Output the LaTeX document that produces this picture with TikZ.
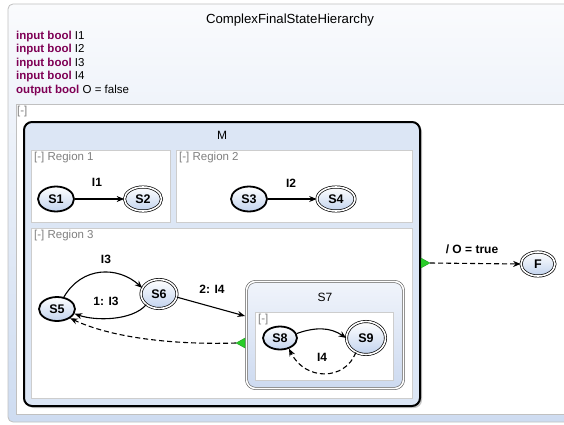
\documentclass[tikz,border=0pt]{standalone}
\usepackage{fontspec}
\setmainfont{Liberation Sans}
\usetikzlibrary{shapes.geometric,arrows.meta,shadows}
\definecolor{kw}{RGB}{127,0,85}
\definecolor{stlo}{RGB}{194,211,238}
\definecolor{mfill}{RGB}{220,230,245}
\definecolor{regbd}{RGB}{205,205,205}
\definecolor{frbd}{RGB}{192,192,192}
\definecolor{hdtop}{RGB}{250,251,253}
\definecolor{hdbot}{RGB}{206,220,241}
\definecolor{grn}{RGB}{40,205,40}
\definecolor{sevtop}{RGB}{240,244,251}
\definecolor{sevbot}{RGB}{205,218,240}
\begin{document}
\begin{tikzpicture}[x=1pt,y=-1pt,
  every node/.style={font=\fontsize{12}{14}\selectfont},
  st/.style={ellipse, inner sep=0pt, top color=white, bottom color=stlo, font=\fontsize{12.5}{14}\selectfont\bfseries},
  init/.style={st, draw=black, line width=1.8pt},
  fin/.style={st, draw=black, line width=0.7pt, double=white, double distance=1.6pt},
  region/.style={draw=regbd, fill=white, line width=0.8pt, inner sep=0pt},
  rlabel/.style={anchor=west, text=gray, inner sep=0pt, font=\fontsize{11.5}{13}\selectfont},
  arr/.style={line width=1.1pt, -{Stealth[length=7.5pt,width=6pt]}},
  darr/.style={arr, dash pattern=on 5pt off 3pt},
  elabel/.style={font=\fontsize{12}{14}\selectfont\bfseries},
  hdr/.style={anchor=west, inner sep=0pt, font=\fontsize{11.5}{13}\selectfont},
  tri/.style={fill=grn, draw=grn!70!black, line width=0.3pt}
]
\useasboundingbox (0,0) rectangle (564,425);
% outer frame
\node[draw=frbd, top color=hdtop, bottom color=hdbot, rounded corners=5pt, line width=0.8pt,
      minimum width=564pt, minimum height=418pt, inner sep=0pt] (frame) at (290,213) {};
\node[font=\fontsize{13.2}{15}\selectfont] (title) at (290,20) {ComplexFinalStateHierarchy};
\node[hdr] (h1) at (16,37) {\textcolor{kw}{\bfseries input bool} I1};
\node[hdr] (h2) at (16,50) {\textcolor{kw}{\bfseries input bool} I2};
\node[hdr] (h3) at (16,63.5) {\textcolor{kw}{\bfseries input bool} I3};
\node[hdr] (h4) at (16,77) {\textcolor{kw}{\bfseries input bool} I4};
\node[hdr] (h5) at (16,90.5) {\textcolor{kw}{\bfseries output bool} O = false};
% body
\node[draw=frbd, fill=white, line width=0.8pt, inner sep=0pt,
      minimum width=548pt, minimum height=310pt] (body) at (290,259) {};
\node[rlabel] (bodyl) at (17,112) {[-]};
% M
\node[draw=black, line width=2pt, rounded corners=8pt, fill=mfill, inner sep=0pt,
      minimum width=396pt, minimum height=284pt,
      drop shadow={shadow xshift=2pt, shadow yshift=-2pt, fill=black!45}] (M) at (222,264) {};
\node (Mt) at (222,135) {M};
% regions
\node[region, minimum width=139pt, minimum height=72pt] (R1) at (100.5,186) {};
\node[rlabel] (R1l) at (34,158) {[-] Region 1};
\node[region, minimum width=236pt, minimum height=72pt] (R2) at (294,186) {};
\node[rlabel] (R2l) at (179,158) {[-] Region 2};
\node[region, minimum width=381pt, minimum height=170pt] (R3) at (221.5,313) {};
\node[rlabel] (R3l) at (34,236) {[-] Region 3};
% S7
\node[draw=black!65, line width=0.6pt, double=white, double distance=1.6pt, rounded corners=9pt,
      top color=sevtop, bottom color=sevbot, inner sep=0pt,
      minimum width=157pt, minimum height=107pt,
      drop shadow={shadow xshift=1.2pt, shadow yshift=-1.2pt, fill=black!25}] (S7) at (325,335) {};
\node (S7t) at (325,297) {S7};
\node[region, minimum width=138pt, minimum height=68pt] (R7) at (324,346) {};
\node[rlabel] (R7l) at (258,320) {[-]};
% states
\node[init, minimum width=36pt, minimum height=25pt] (S1) at (56,199) {S1};
\node[fin, minimum width=37pt, minimum height=24pt] (S2) at (143,199) {S2};
\node[init, minimum width=36pt, minimum height=25pt] (S3) at (249,199) {S3};
\node[fin, minimum width=38pt, minimum height=24pt] (S4) at (336,199) {S4};
\node[init, minimum width=36pt, minimum height=24pt] (S5) at (57,309) {S5};
\node[fin, minimum width=36pt, minimum height=29pt] (S6) at (159,294) {S6};
\node[init, minimum width=34pt, minimum height=23pt] (S8) at (280,338) {S8};
\node[fin, minimum width=39pt, minimum height=33pt] (S9) at (366,338) {S9};
\node[fin, minimum width=34pt, minimum height=24pt] (F) at (538,264) {F};
% exits
\coordinate (Mout) at (421,263);
\coordinate (Mtip) at (430,263);
\coordinate (S7out) at (245,343);
\coordinate (S7tip) at (236,343);
\coordinate (S7in) at (245,316);
% transitions
\draw[arr] (S1) -- (S2);
\node[elabel] (l1) at (97,182) {I1};
\draw[arr] (S3) -- (S4);
\node[elabel] (l2) at (291,183) {I2};
\draw[arr] (S5.60) .. controls (82,266) and (118,266) .. (S6.160);
\node[elabel] (l3) at (106,259) {I3};
\draw[arr] (S6.220) .. controls (132,321) and (95,321) .. (S5.-15);
\node[elabel] (l4) at (106,301) {1: I3};
\draw[arr] (S6.-10) -- (S7in);
\node[elabel] (l5) at (212,289) {2: I4};
\draw[darr] (S7tip) .. controls (170,345) and (110,337) .. (S5.-35);
\draw[arr] (S8.15) .. controls (315,327) and (330,327) .. (S9.180);
\draw[darr] (S9.235) .. controls (345,381) and (305,381) .. (S8.-50);
\node[elabel] (l6) at (322,357) {I4};
\draw[darr] (Mtip) -- (F.west);
\node[elabel] (l7) at (472,249) {/ O = true};
\path[tri] (421,258) -- (430,263) -- (421,268) -- cycle;
\path[tri] (245,338) -- (236,343) -- (245,348) -- cycle;
\end{tikzpicture}
\end{document}
